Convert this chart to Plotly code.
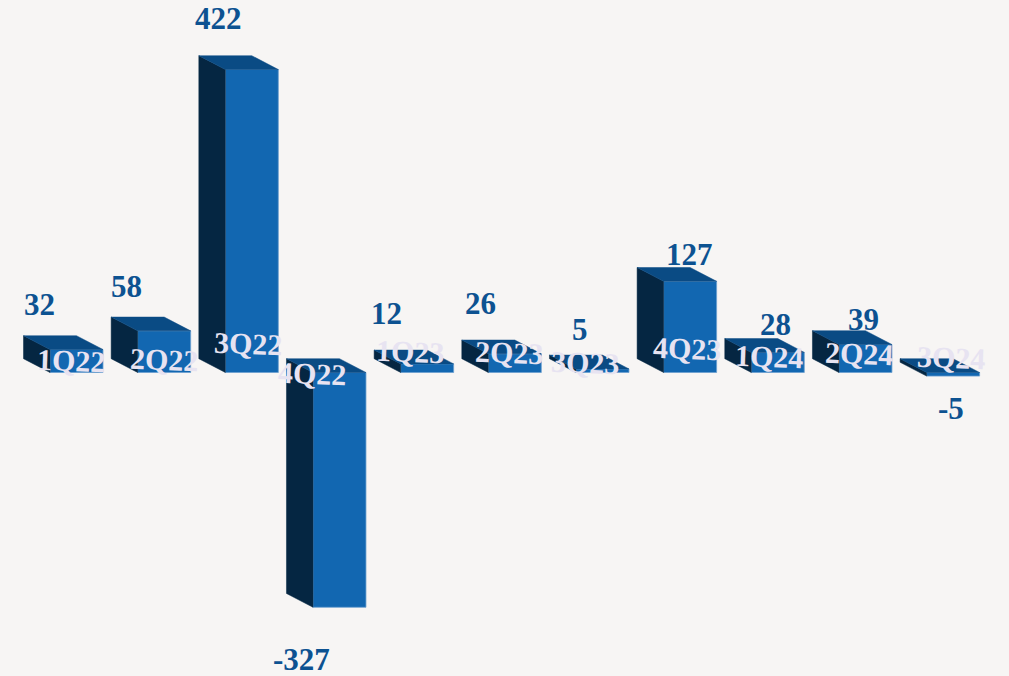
import plotly.graph_objects as go

# Data
categories = ["1Q22", "2Q22", "3Q22", "4Q22", "1Q23", "2Q23", "3Q23", "4Q23", "1Q24", "2Q24", "3Q24"]
values = [32, 58, 422, -327, 12, 26, 5, 127, 28, 39, -5]

# Label placement, in pixels from each bar's front centre
value_label_dx = [-37.5, -38, -33, -37.5, -41, -34, -22, -1, -2, -2, -2]
value_label_dy = [45, 44.5, 51.5, -52.2, 50.5, 50.5, 39.5, 26.5, 27.5, 25, -32.5]
cat_label_dx = [-6, 0, -3.5, -27, -17.5, -6, -17, -3, -9, -6, -2]
cat_label_dy = [12.5, 13.5, 29.5, -0.5, 21.5, 20.5, 10.5, 24.5, 16.5, 19.5, 15.5]

# Styling
W, H = 1009, 676
BG = "#f7f5f4"
FRONT, SIDE, TOP = "#1267b1", "#052642", "#0a4b84"
EDGE = "#6c9fcf"
VAL_COL, CAT_COL = "#0d5291", "#e7e3f1"
FONT = "Liberation Serif"

PX_X = 87.66      # pixels per category
PX_Y = 0.718      # pixels per value unit
X0_PX, Y0_PX = 76.5, 372.5
HALF = 26.5 / PX_X
DX = 26.5 / PX_X  # depth offset in data units
DY = 13.8 / PX_Y

x_idx = list(range(len(categories)))
fig = go.Figure()

side_x, side_y, top_x, top_y = [], [], [], []
for i, v in zip(x_idx, values):
    l, r = i - HALF, i + HALF
    top_level = max(v, 0)
    low = min(v, 0)
    side_x += [l, l, l - DX, l - DX, l, None]
    side_y += [low, top_level, top_level + DY, low + DY, low, None]
    top_x += [l, r, r - DX, l - DX, l, None]
    top_y += [top_level, top_level, top_level + DY, top_level + DY, top_level, None]

fig.add_trace(go.Bar(x=x_idx, y=values, width=2 * HALF,
                     marker=dict(color=FRONT, line=dict(color=EDGE, width=0.8)), hoverinfo="skip"))
fig.add_trace(go.Scatter(x=side_x, y=side_y, mode="lines", fill="toself", fillcolor=SIDE,
                         line=dict(color=SIDE, width=0.5), hoverinfo="skip"))
fig.add_trace(go.Scatter(x=top_x, y=top_y, mode="lines", fill="toself", fillcolor=TOP,
                         line=dict(color=TOP, width=0.5), hoverinfo="skip"))

annotations = []
for i, v in zip(x_idx, values):
    annotations.append(dict(x=i, y=v, text=str(v), showarrow=False,
                            xanchor="center", yanchor="middle",
                            xshift=value_label_dx[i], yshift=value_label_dy[i],
                            font=dict(family=FONT, size=31, weight=700, color=VAL_COL)))
    annotations.append(dict(x=i, y=0, text=categories[i], showarrow=False,
                            xanchor="center", yanchor="middle", textangle=2,
                            xshift=cat_label_dx[i], yshift=cat_label_dy[i],
                            font=dict(family=FONT, size=30, weight=700, color=CAT_COL)))

fig.update_layout(
    width=W, height=H, margin=dict(l=0, r=0, t=0, b=0, pad=0),
    paper_bgcolor=BG, plot_bgcolor=BG, showlegend=False,
    annotations=annotations,
    xaxis=dict(visible=False, range=[-X0_PX / PX_X, (W - X0_PX) / PX_X], fixedrange=True),
    yaxis=dict(visible=False, range=[-(H - Y0_PX) / PX_Y, Y0_PX / PX_Y], fixedrange=True),
)
fig.write_html("out.html", config={"displayModeBar": False},
               post_script=f"document.body.style.margin='0';document.body.style.background='{BG}';document.documentElement.style.overflow='hidden';")
